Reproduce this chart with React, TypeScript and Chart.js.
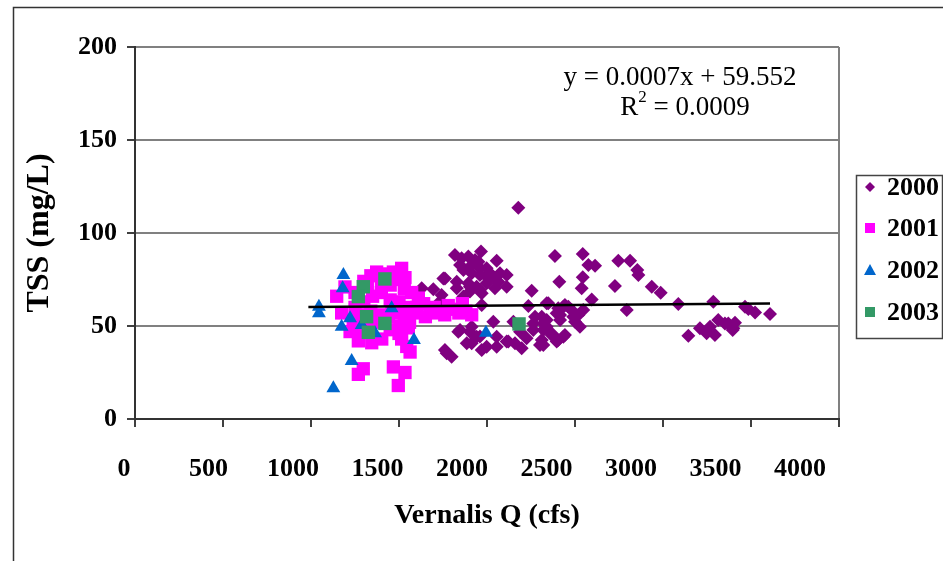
import React, { useEffect, useRef } from 'react';
import { Chart, registerables } from 'chart.js';

Chart.register(...registerables);

const SERIF = "'Liberation Serif', 'Times New Roman', serif";

const SERIES_NAMES = ['2000', '2001', '2002', '2003'];
const SERIES_COLORS = ['#800080', '#FF00FF', '#0066CC', '#339966'];

const X_TITLE = 'Vernalis Q (cfs)';
const Y_TITLE = 'TSS (mg/L)';
const X_TICKS = [0, 500, 1000, 1500, 2000, 2500, 3000, 3500, 4000];
const Y_TICKS = [0, 50, 100, 150, 200];

const EQUATION = 'y = 0.0007x + 59.552';
const R2_VALUE = '= 0.0009';
const TREND_SLOPE = 0.0007;
const TREND_INTERCEPT = 59.552;
const TREND_X = [985, 3608];

const X_2000 = [
  2178, 1818, 1856, 1894, 1966, 1932, 1847, 1903, 1960, 2055, 2112, 2036, 2008, 1761, 1629, 1695,
  1742, 1828, 1903, 1960, 2045, 2112, 1723, 1970, 2254, 2386, 2411, 2544, 2576, 2614, 2544, 2538,
  2727, 2746, 2813, 2854, 2860, 2936, 2987, 3087, 3286, 3466, 3523, 3608, 2794, 2595, 2348, 2235,
  2434, 2462, 2396, 2415, 2490, 2528, 2311, 2263, 2339, 2367, 2036, 2150, 1837, 1903, 1913, 1970,
  1960, 2055, 2121, 2197, 2225, 2301, 2405, 2443, 1761, 1799, 3144, 3210, 3248, 3295, 3314, 3371,
  3400, 3409, 3267, 1866, 1903, 1970, 2339, 1847, 1913, 2055, 2112, 2188, 2263, 2273, 2320, 2311,
  2159, 1998, 1771, 1885, 1941, 2443, 2481, 2547, 2519, 2500, 2415, 2405, 2339, 2320, 2367, 2434,
  2396, 2320, 3485, 3352, 3396, 1951, 1998, 1866, 1913, 1960, 2017, 2074, 1828, 1894, 1941, 1998,
  2065, 1752, 1742,
];
const Y_2000 = [
  113.6, 88.2, 86.4, 87.3, 90.0, 85.5, 82.8, 81.9, 81.0, 85.1, 77.4, 76.5, 75.6, 75.6, 70.3, 69.7,
  66.7, 70.3, 71.1, 69.4, 70.3, 71.1, 62.2, 61.3, 69.0, 87.6, 73.8, 88.7, 82.8, 82.4, 76.2, 70.3,
  71.5, 85.1, 85.1, 80.1, 77.4, 71.1, 67.9, 61.8, 63.1, 60.4, 57.2, 56.5, 58.6, 64.3, 62.2, 60.8,
  60.4, 60.4, 56.8, 53.2, 55.0, 49.6, 55.0, 51.4, 49.6, 46.1, 52.3, 52.3, 46.9, 46.9, 40.7, 37.1,
  44.3, 38.9, 41.6, 38.0, 43.4, 39.8, 42.5, 45.2, 37.1, 33.5, 44.8, 48.8, 46.1, 45.2, 53.2, 51.4,
  48.8, 51.8, 49.6, 65.8, 68.5, 67.6, 62.2, 47.8, 49.6, 44.2, 41.6, 46.9, 47.8, 55.0, 51.4, 42.5,
  40.7, 38.9, 35.3, 40.7, 44.2, 61.3, 58.6, 58.6, 55.9, 52.3, 55.9, 59.5, 53.2, 47.8, 45.2, 44.2,
  41.6, 39.8, 59.1, 51.4, 47.8, 84.6, 81.0, 80.1, 78.3, 77.4, 78.3, 78.3, 73.8, 73.0, 71.1, 73.0,
  73.8, 75.6, 63.1,
];

const X_2001 = [
  1146, 1193, 1373, 1468, 1515, 1534, 1572, 1610, 1174, 1222, 1269, 1345, 1402, 1515, 1563, 1506,
  1553, 1297, 1269, 1468, 1534, 1496, 1544,
  1250, 1300, 1340, 1420, 1450, 1490, 1530, 1250, 1300, 1350, 1400, 1450, 1500, 1550, 1240, 1290,
  1340, 1390, 1440, 1480, 1530, 1580, 1280, 1330, 1380, 1450, 1500, 1560, 1320, 1400, 1460, 1600,
  1640, 1680, 1720, 1760, 1800, 1840, 1880, 1913, 1650, 1700, 1780, 1860,
];
const Y_2001 = [
  66, 71, 79, 79, 81, 76, 68, 65, 57, 47, 42, 41, 43, 43, 36, 50,
  49, 27, 24, 28, 25, 18, 39,
  68, 74, 77, 78, 72, 75, 70, 60, 63, 66, 68, 64, 63, 60, 53, 56,
  58, 56, 55, 57, 55, 57, 48, 50, 52, 48, 46, 52, 72, 73, 60, 60,
  62, 58, 57, 56, 59, 57, 58, 56, 55, 60, 61, 62,
];

const X_2002 = [1184, 1180, 1045, 1045, 1222, 1174, 1458, 1364, 1288, 1585, 1231, 1127, 1994];
const Y_2002 = [77.4, 70.3, 60.4, 56.8, 54.1, 49.6, 59.5, 46.1, 50.5, 42.5, 31.2, 16.5, 46.4];

const X_2003 = [1420, 1297, 1269, 1316, 1420, 1326, 2182];
const Y_2003 = [75.3, 71.1, 65.8, 55.0, 51.4, 46.6, 51.1];

const toPoints = (xs: number[], ys: number[]) => xs.map((x, i) => ({ x, y: ys[i] }));

const decorPlugin = {
  id: 'decor',
  afterDraw(chart: any) {
    const ctx: CanvasRenderingContext2D = chart.ctx;
    ctx.save();
    // outer chart frame (top and left visible)
    ctx.strokeStyle = '#333333';
    ctx.lineWidth = 1.5;
    ctx.beginPath();
    ctx.moveTo(13.5, 600);
    ctx.lineTo(13.5, 7.5);
    ctx.lineTo(1000, 7.5);
    ctx.stroke();

    // regression text
    ctx.fillStyle = '#000';
    ctx.font = `27px ${SERIF}`;
    ctx.textBaseline = 'middle';
    ctx.textAlign = 'center';
    ctx.fillText(EQUATION, 680, 78);
    const rW = ctx.measureText('R').width;
    const restW = ctx.measureText(' ' + R2_VALUE).width;
    ctx.font = `17px ${SERIF}`;
    const supW = ctx.measureText('2').width;
    const total = rW + supW + restW;
    let sx = 685 - total / 2;
    ctx.textAlign = 'left';
    ctx.font = `27px ${SERIF}`;
    ctx.fillText('R', sx, 108);
    sx += rW;
    ctx.font = `17px ${SERIF}`;
    ctx.fillText('2', sx, 98);
    sx += supW;
    ctx.font = `27px ${SERIF}`;
    ctx.fillText(' ' + R2_VALUE, sx, 108);

    // legend
    ctx.strokeStyle = '#444444';
    ctx.lineWidth = 1.5;
    ctx.strokeRect(856.5, 175.5, 86, 163);
    const rows = [187, 228, 270, 312];
    ctx.font = `bold 26px ${SERIF}`;
    ctx.textAlign = 'left';
    SERIES_NAMES.forEach((name, i) => {
      const cy = rows[i];
      const cx = 870;
      ctx.fillStyle = SERIES_COLORS[i];
      ctx.beginPath();
      if (i === 0) {
        ctx.moveTo(cx, cy - 5);
        ctx.lineTo(cx + 5, cy);
        ctx.lineTo(cx, cy + 5);
        ctx.lineTo(cx - 5, cy);
        ctx.closePath();
      } else if (i === 2) {
        ctx.moveTo(cx, cy - 6);
        ctx.lineTo(cx + 6, cy + 5);
        ctx.lineTo(cx - 6, cy + 5);
        ctx.closePath();
      } else {
        ctx.rect(cx - 5, cy - 5, 10, 10);
      }
      ctx.fill();
      ctx.fillStyle = '#000';
      ctx.fillText(name, 887, cy + 1);
    });
    ctx.restore();
  },
};

export default function App() {
  const ref = useRef<HTMLCanvasElement>(null);
  useEffect(() => {
    document.body.style.margin = '0';
    const canvas = ref.current!;
    Chart.defaults.font.family = SERIF;
    Chart.defaults.color = '#000';
    const tickFont = { family: SERIF, size: 26, weight: 'bold' as const };
    const titleFont = { family: SERIF, size: 28, weight: 'bold' as const };
    const chart = new Chart(canvas, {
      type: 'scatter',
      data: {
        datasets: [
          {
            label: 'trend',
            type: 'line',
            data: TREND_X.map((x) => ({ x, y: TREND_SLOPE * x + TREND_INTERCEPT })),
            borderColor: '#000',
            borderWidth: 2.5,
            pointRadius: 0,
            showLine: true,
            fill: false,
            order: 0,
          } as any,
          {
            label: SERIES_NAMES[3],
            data: toPoints(X_2003, Y_2003),
            pointStyle: 'rect',
            pointRadius: 9.5,
            backgroundColor: SERIES_COLORS[3],
            borderWidth: 0,
            order: 1,
          },
          {
            label: SERIES_NAMES[2],
            data: toPoints(X_2002, Y_2002),
            pointStyle: 'triangle',
            pointRadius: 8,
            backgroundColor: SERIES_COLORS[2],
            borderWidth: 0,
            order: 2,
          },
          {
            label: SERIES_NAMES[1],
            data: toPoints(X_2001, Y_2001),
            pointStyle: 'rect',
            pointRadius: 9.4,
            backgroundColor: SERIES_COLORS[1],
            borderWidth: 0,
            order: 3,
          },
          {
            label: SERIES_NAMES[0],
            data: toPoints(X_2000, Y_2000),
            pointStyle: 'rectRot',
            pointRadius: 7,
            backgroundColor: SERIES_COLORS[0],
            borderWidth: 0,
            order: 4,
          },
        ],
      },
      options: {
        animation: false,
        responsive: false,
        devicePixelRatio: 1,
        layout: { padding: { left: 0, right: 104, top: 47, bottom: 24 } },
        plugins: { legend: { display: false }, tooltip: { enabled: false } },
        scales: {
          x: {
            type: 'linear',
            position: 'bottom',
            min: 0,
            max: 4000,
            weight: 0,
            afterBuildTicks: (s: any) => {
              s.ticks = X_TICKS.map((v) => ({ value: v }));
            },
            afterFit: (s: any) => {
              s.height = 8;
            },
            ticks: { display: false },
            grid: {
              color: (c: any) => (c.tick && c.tick.value === 4000 ? '#808080' : 'rgba(0,0,0,0)'),
              lineWidth: 2,
              drawTicks: true,
              tickLength: 8,
              tickColor: '#404040',
              tickWidth: 2,
            },
            border: { display: true, color: '#333333', width: 2 },
          },
          x2: {
            type: 'linear',
            position: 'bottom',
            min: 65,
            max: 4231,
            weight: 1,
            afterBuildTicks: (s: any) => {
              s.ticks = X_TICKS.map((v) => ({ value: v }));
            },
            afterFit: (s: any) => {
              s.height = 110;
            },
            ticks: {
              font: tickFont,
              color: '#000',
              padding: 27,
              maxRotation: 0,
              autoSkip: false,
              callback: (v: any) => String(v),
            },
            grid: { display: false, drawTicks: false },
            border: { display: false },
            title: {
              display: true,
              text: X_TITLE,
              font: titleFont,
              color: '#000',
              padding: { top: 0, bottom: 4 },
            },
          },
          y: {
            type: 'linear',
            min: 0,
            max: 200,
            afterBuildTicks: (s: any) => {
              s.ticks = Y_TICKS.map((v) => ({ value: v }));
            },
            afterFit: (s: any) => {
              s.width = 135;
            },
            ticks: { font: tickFont, color: '#000', padding: 10, callback: (v: any) => String(v) },
            grid: {
              color: '#808080',
              lineWidth: 2,
              tickLength: 8,
              tickColor: '#404040',
              tickWidth: 2,
            },
            border: { display: true, color: '#333333', width: 2 },
            title: {
              display: true,
              text: Y_TITLE,
              font: { family: SERIF, size: 32, weight: 'bold' as const },
              color: '#000',
              padding: { top: 21, bottom: 0 },
            },
          },
        },
      },
      plugins: [decorPlugin],
    });
    return () => chart.destroy();
  }, []);
  return (
    <div style={{ width: 943, height: 561 }}>
      <canvas ref={ref} width={943} height={561} style={{ display: 'block' }} />
    </div>
  );
}
